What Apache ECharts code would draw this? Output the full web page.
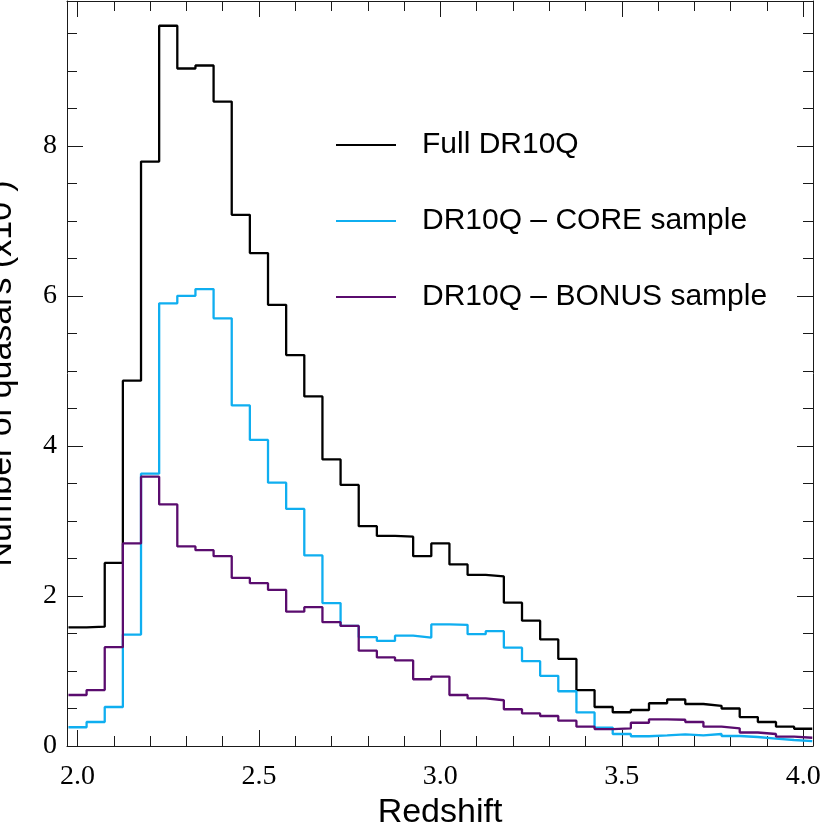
<!DOCTYPE html>
<html>
<head>
<meta charset="utf-8">
<script src="https://cdn.jsdelivr.net/npm/echarts@6/dist/echarts.min.js"></script>
<style>
html,body{margin:0;padding:0;background:#fff;}
#chart{width:830px;height:830px;}
</style>
</head>
<body>
<div id="chart"></div>
<script>
// Redshift bin centres (bin width 0.05)
var binCenters = [2.00,2.05,2.10,2.15,2.20,2.25,2.30,2.35,2.40,2.45,2.50,2.55,2.60,2.65,2.70,2.75,2.80,2.85,2.90,2.95,
                  3.00,3.05,3.10,3.15,3.20,3.25,3.30,3.35,3.40,3.45,3.50,3.55,3.60,3.65,3.70,3.75,3.80,3.85,3.90,3.95,4.00];
var binWidth = 0.05;
// Number of quasars (x10^3)
var fullDR10Q = [1.58,1.59,2.44,4.87,7.79,9.60,9.03,9.07,8.59,7.08,6.57,5.88,5.21,4.66,3.82,3.48,2.93,2.80,2.79,2.53,
                 2.70,2.42,2.28,2.26,1.91,1.67,1.42,1.16,0.745,0.52,0.45,0.48,0.57,0.62,0.56,0.536,0.50,0.385,0.32,0.257,0.23];
var coreSample = [0.25,0.32,0.52,1.485,3.63,5.90,6.00,6.09,5.70,4.54,4.08,3.51,3.16,2.54,1.905,1.60,1.45,1.40,1.47,1.445,
                  1.62,1.615,1.49,1.53,1.31,1.13,0.935,0.73,0.448,0.245,0.16,0.13,0.142,0.155,0.142,0.16,0.133,0.12,0.097,0.08,0.066];
var bonusSample = [0.68,0.745,1.317,2.70,3.59,3.22,2.66,2.61,2.53,2.24,2.17,2.08,1.79,1.85,1.65,1.60,1.27,1.18,1.14,0.89,
                   0.925,0.68,0.634,0.61,0.49,0.434,0.40,0.337,0.257,0.226,0.235,0.31,0.355,0.35,0.32,0.257,0.235,0.18,0.16,0.124,0.11];
var seriesNames = ['Full DR10Q', 'DR10Q \u2013 CORE sample', 'DR10Q \u2013 BONUS sample'];
var xMajorTicks = [2.0, 2.5, 3.0, 3.5, 4.0];
var xMinorTicks = [2.1,2.2,2.3,2.4,2.6,2.7,2.8,2.9,3.1,3.2,3.3,3.4,3.6,3.7,3.8,3.9];
var yMajorTicks = [0, 2, 4, 6, 8];
var yMinorTicks = [0.5,1,1.5,2.5,3,3.5,4.5,5,5.5,6.5,7,7.5,8.5,9,9.5];

function histSteps(values) {
  var pts = binCenters.map(function (c, i) { return [c - binWidth / 2, values[i]]; });
  var n = binCenters.length - 1;
  pts.push([binCenters[n] + binWidth / 2, values[n]]);
  return pts;
}

var XMIN = 1.971, XMAX = 4.027, YMIN = 0, YMAX = 9.93;
var frameColor = '#1a1a1a';
var serif = '"Liberation Serif", "Times New Roman", serif';
var sans = '"Liberation Sans", Arial, sans-serif';

function xAx(pos, ticks, len, showLine, labels, name) {
  var a = {
    type: 'value', position: pos, min: XMIN, max: XMAX,
    axisLine: { show: showLine, onZero: false, lineStyle: { color: frameColor, width: 1 } },
    axisTick: { show: true, inside: true, length: len, customValues: ticks, lineStyle: { color: frameColor, width: 1 } },
    axisLabel: labels ? {
      show: true, customValues: ticks, margin: 17,
      formatter: function (v) { return v.toFixed(1); },
      fontFamily: serif, fontSize: 28, color: '#000'
    } : { show: false },
    splitLine: { show: false }
  };
  if (name) {
    a.name = name; a.nameLocation = 'middle'; a.nameGap = 50; a.nameMoveOverlap = false;
    a.nameTextStyle = { fontFamily: sans, fontSize: 34, color: '#000' };
  }
  return a;
}
function yAx(pos, ticks, len, showLine, labels, name) {
  var a = {
    type: 'value', position: pos, min: YMIN, max: YMAX,
    axisLine: { show: showLine, onZero: false, lineStyle: { color: frameColor, width: 1 } },
    axisTick: { show: true, inside: true, length: len, customValues: ticks, lineStyle: { color: frameColor, width: 1 } },
    axisLabel: labels ? {
      show: true, customValues: ticks, margin: 10,
      formatter: function (v) { return String(v); },
      fontFamily: serif, fontSize: 28, color: '#000'
    } : { show: false },
    splitLine: { show: false }
  };
  if (name) {
    a.name = name; a.nameLocation = 'middle'; a.nameGap = 48; a.nameMoveOverlap = false;
    a.nameTextStyle = {
      fontFamily: sans, fontSize: 34, color: '#000',
      rich: { sup: { fontFamily: sans, fontSize: 18, verticalAlign: 'top', color: '#000' } }
    };
  }
  return a;
}

var colors = ['#000000', '#0faef0', '#5a0c6e'];
var allData = [fullDR10Q, coreSample, bonusSample];

var chart = echarts.init(document.getElementById('chart'), null, { renderer: 'canvas' });
chart.setOption({
  animation: false,
  backgroundColor: '#ffffff',
  grid: { left: 67, right: 17, top: 1, bottom: 84, containLabel: false, outerBoundsMode: 'none' },
  xAxis: [
    xAx('bottom', xMajorTicks, 16, true, true, 'Redshift'),
    xAx('bottom', xMinorTicks, 10, false, false),
    xAx('top', xMajorTicks, 16, true, false),
    xAx('top', xMinorTicks, 10, false, false)
  ],
  yAxis: [
    yAx('left', yMajorTicks, 16, true, true, 'Number of quasars (x10{sup|3})'),
    yAx('left', yMinorTicks, 10, false, false),
    yAx('right', yMajorTicks, 16, true, false),
    yAx('right', yMinorTicks, 10, false, false)
  ],
  legend: {
    show: true, orient: 'vertical', left: 331, top: 125,
    itemWidth: 60, itemHeight: 14, itemGap: 46,
    icon: 'path://M0,0 L60,0 L60,2 L0,2 Z',
    data: seriesNames,
    textStyle: { fontFamily: sans, fontSize: 30, color: '#000', lineHeight: 30, padding: [0, 0, 0, 21] }
  },
  series: allData.map(function (vals, i) {
    return {
      name: seriesNames[i], type: 'line', step: 'end', showSymbol: false, symbol: 'none',
      xAxisIndex: 0, yAxisIndex: 0, z: 2 + i,
      data: histSteps(vals),
      itemStyle: { color: colors[i] },
      lineStyle: { color: colors[i], width: 2.3 }
    };
  })
});
</script>
</body>
</html>
